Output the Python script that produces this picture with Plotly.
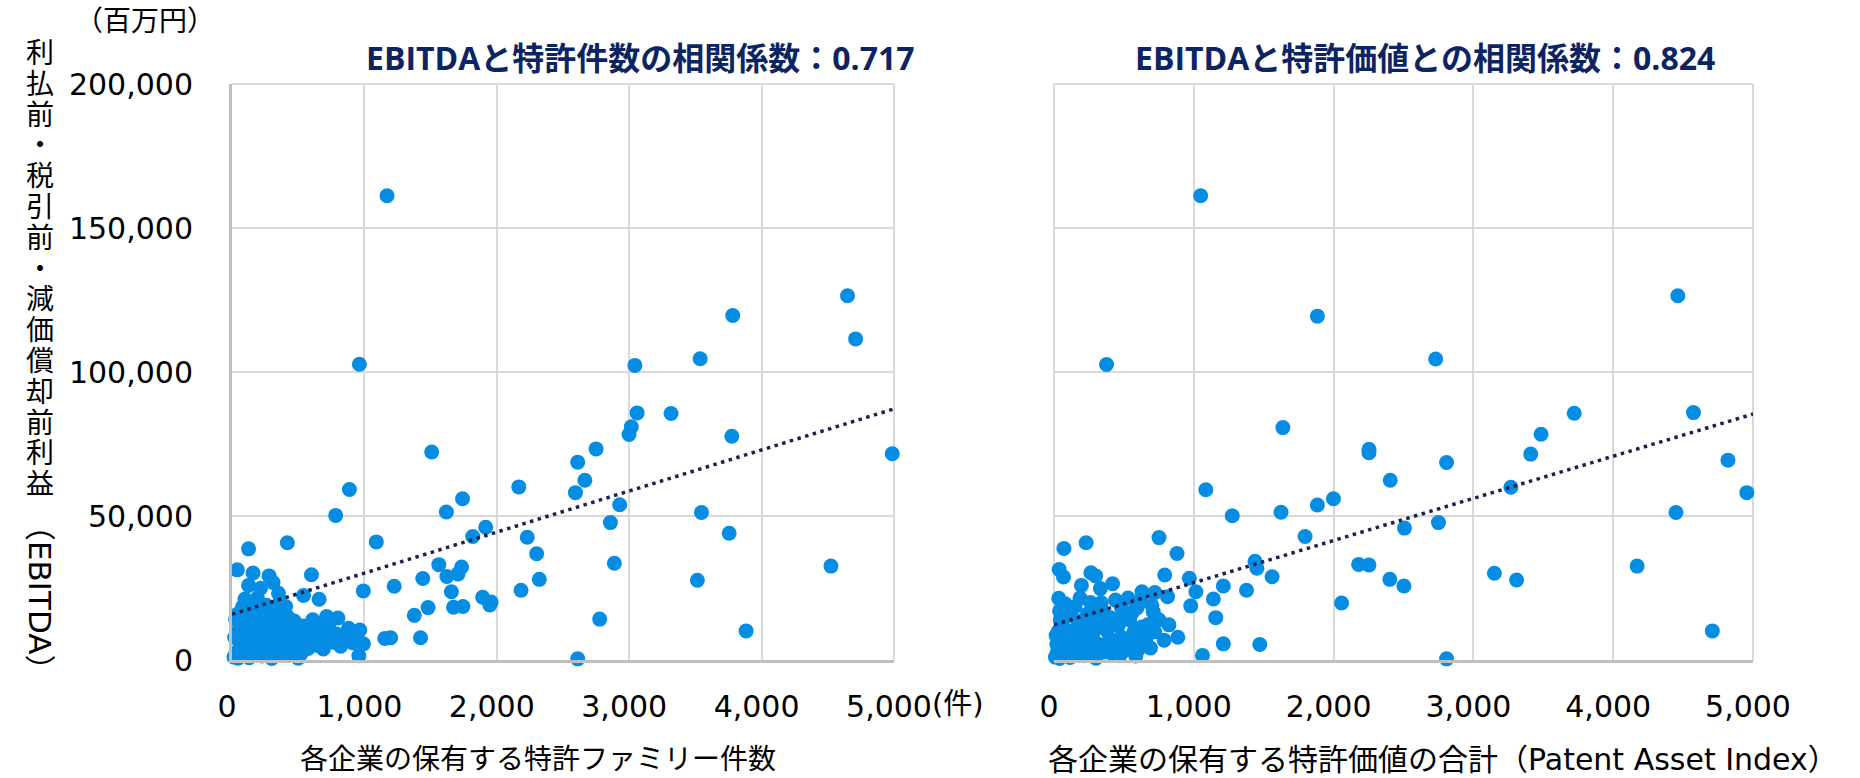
import plotly.graph_objects as go

# ---- data: EBITDA (million yen) vs. patent family count ----
count_x = [
    1171, 962, 3043, 3536, 3782, 4649, 4710, 3060, 3316, 3016, 2999, 3775, 4987, 1508,
    2750, 2611, 2665, 2166, 2594, 887, 1741, 1619, 783, 2928, 3546, 2858, 3755, 1916,
    1818, 2230, 2301, 1090, 418, 125, 2888, 4524, 3515, 2321, 2183, 1562, 1734, 1707,
    1623, 1441, 1225, 992, 1657, 1893, 1947, 1957, 1744, 1673, 1481, 1377, 2777, 3883,
    2611, 1424, 1154, 1198, 958, 992, 965, 918, 800, 715, 665, 658, 600, 540, 40, 159,
    280, 310, 216, 125, 351, 98, 192, 405, 361, 27, 148, 243,
    15, 30, 45, 60, 75, 90, 20, 35, 110, 130, 140, 165, 180, 195, 210, 225, 240, 255,
    270, 285, 300, 315, 330, 345, 360, 375, 390, 410, 425, 440, 455, 470, 490, 505, 520,
    540, 560, 575, 595, 610, 630, 650, 670, 690, 710, 730, 760, 790, 820, 850, 880, 910,
    940, 70, 120, 100, 55, 180, 230, 160, 280, 330, 380, 420, 260, 80, 200, 340, 460,
    500, 120, 45, 310,
]
count_y = [
    161200, 102700, 102300, 104600, 119600, 126500, 111500, 85800, 85600, 81000, 78300,
    77700, 71600, 72200, 73300, 68700, 62400, 60100, 58100, 59200, 56000, 51400, 50200,
    53900, 51200, 47700, 44000, 46100, 42900, 42600, 36900, 41000, 40700, 38600, 33600,
    32600, 27700, 28000, 24200, 33100, 32300, 29900, 29000, 28300, 25600, 24000, 23700,
    21800, 19100, 20100, 18600, 18300, 18200, 15500, 14200, 10100, 400, 7700, 7500, 7700,
    1500, 5600, 10400, 9600, 14600, 15100, 12500, 21100, 29600, 22400, 31300, 30200,
    29200, 26900, 24900, 25900, 23200, 21200, 21500, 18600, 20100, 14200, 13300, 16200,
    1000, 2500, 600, 4200, 1800, 6300, 7800, 9500, 3300, 800, 5400, 2200, 7600, 4000,
    9800, 1400, 6000, 11200, 3600, 8200, 500, 5200, 12500, 2800, 9000, 6800, 1700, 4500,
    10800, 7400, 3000, 13500, 5800, 8800, 2200, 11800, 6500, 4000, 9400, 14000, 7200,
    5000, 10000, 3800, 8000, 12000, 6200, 9000, 4800, 7800, 11000, 6000, 8600, 11800,
    14800, 16800, 13000, 12500, 14000, 17500, 16000, 15800, 12800, 15000, 19000, 18500,
    2000, 3800, 2000, 600, 9200, 16000, 11000,
]

# ---- data: EBITDA (million yen) vs. Patent Asset Index ----
pai_x = [
    1049, 376, 1884, 2730, 4462, 3721, 4574, 3484, 3410, 4821, 4956, 1637, 2253, 2253,
    2808, 2405, 3268, 1086, 1999, 1884, 1624, 1275, 4449, 2750, 2507, 1796, 230, 71, 751,
    880, 1438, 1451, 1560, 2179, 2253, 4171, 3150, 3309, 2402, 2503, 2057, 1377, 1211,
    1140, 1157, 978, 968, 1015, 792, 812, 710, 670, 822, 788, 886, 1211, 1472, 1062, 2808,
    4709, 595, 629, 721, 541, 585, 636, 419, 332, 264, 298, 196, 37, 68, 186, 34, 338, 443,
    10, 25, 40, 55, 70, 85, 15, 30, 100, 115, 130, 150, 165, 180, 200, 215, 230, 250, 265,
    280, 300, 320, 340, 360, 380, 400, 420, 440, 460, 480, 500, 520, 545, 570, 600, 630,
    660, 690, 720, 750, 60, 110, 90, 45, 170, 240, 150, 300, 350, 400, 260, 80, 190, 330,
    470, 120, 40, 290, 20, 60, 480, 560, 620, 530, 700, 440,
]
pai_y = [
    161200, 102600, 119400, 104500, 126500, 85700, 85900, 78400, 71500, 69400, 58100,
    80700, 73200, 72000, 68600, 62400, 60000, 59100, 56000, 53800, 51300, 50100, 51200,
    47700, 45800, 42900, 40700, 38700, 42500, 37000, 34300, 31900, 28900, 33200, 33000,
    32600, 30100, 27800, 28000, 25700, 19800, 24200, 25700, 21200, 14700, 18800, 28400,
    23700, 29500, 22000, 16700, 12200, 12200, 6900, 7900, 5600, 5400, 1600, 400, 10100,
    18200, 23700, 23400, 13900, 1400, 5800, 26500, 24800, 30300, 29200, 25900, 31400,
    28800, 21500, 21400, 19900, 14200,
    1000, 3000, 500, 5000, 2000, 7000, 8500, 10000, 3500, 900, 6000, 2500, 8500, 4500,
    11000, 1500, 7000, 12500, 3800, 9500, 600, 5500, 13500, 2800, 10000, 7200, 2000, 4800,
    12000, 8000, 3200, 15000, 6200, 9600, 3500, 11500, 7800, 4200, 9800, 14000, 12500,
    15500, 17500, 14000, 13500, 16000, 18500, 17000, 16500, 14800, 20000, 19500, 2000,
    3800, 1500, 10000, 17000, 12000, 5500, 9000, 18500, 16500, 20500, 21500, 19000, 20800,
]

# linear trend values at x = 0 and x = 5,000
trend_x = [0, 5000]
count_trend_y = [15900, 87200]
pai_trend_y = [12200, 85400]

x_ticks = [0, 1000, 2000, 3000, 4000, 5000]
x_tick_text = ["0", "1,000", "2,000", "3,000", "4,000", "5,000"]
y_ticks = [0, 50000, 100000, 150000, 200000]
y_tick_text = ["0", "50,000", "100,000", "150,000", "200,000"]

title_left = "EBITDAと特許件数の相関係数：0.717"
title_right = "EBITDAと特許価値との相関係数：0.824"
x_title_left = "各企業の保有する特許ファミリー件数"
x_title_right = "各企業の保有する特許価値の合計（Patent Asset Index）"
y_title_chars = "利払前・税引前・減価償却前利益"
y_title_latin = "（EBITDA）"
y_unit = "（百万円）"
x_unit = "(件)"

# ---- styling ----
W, H = 1860, 778
BLUE = "#058de4"
NAVY = "#1b2250"
TITLE_NAVY = "#0c2461"
GRID = "#d9d9d9"
AXIS = "#bfbfbf"
TEXT_FONT = "DejaVu Sans, Noto Sans CJK JP"
TITLE_FONT = "Open Sans, Noto Sans CJK JP"
NUM = "DejaVu Sans"

# plot-area rectangles in canvas pixels
L_X0, L_X1 = 232, 894
R_X0, R_X1 = 1054, 1753
P_Y0, P_Y1 = 84, 660


def fx(p):
    return p / W


def fy(p):
    return 1 - p / H


fig = go.Figure()

fig.add_trace(go.Scatter(
    x=count_x, y=count_y, mode="markers", xaxis="x", yaxis="y",
    marker=dict(size=15, color=BLUE, line=dict(width=0)), cliponaxis=False,
))
fig.add_trace(go.Scatter(
    x=trend_x, y=count_trend_y, mode="lines", xaxis="x", yaxis="y",
    line=dict(color=NAVY, width=3.5, dash="3.5px,4.5px"),
))
fig.add_trace(go.Scatter(
    x=pai_x, y=pai_y, mode="markers", xaxis="x2", yaxis="y2",
    marker=dict(size=15, color=BLUE, line=dict(width=0)), cliponaxis=False,
))
fig.add_trace(go.Scatter(
    x=trend_x, y=pai_trend_y, mode="lines", xaxis="x2", yaxis="y2",
    line=dict(color=NAVY, width=3.5, dash="3.5px,4.5px"),
))

xaxis_common = dict(
    range=[0, 5000], tickvals=x_ticks, ticktext=x_tick_text,
    showgrid=True, gridcolor=GRID, gridwidth=2,
    showline=True, linecolor=AXIS, linewidth=3,
    zeroline=False, ticks="", automargin=False,
    tickfont=dict(family=NUM, size=30, color="#000000"),
    ticklabelstandoff=18, ticklabelshift=-5,
)
yaxis_common = dict(
    range=[0, 200000], tickvals=y_ticks, ticktext=y_tick_text,
    showgrid=True, gridcolor=GRID, gridwidth=2,
    zeroline=False, ticks="", automargin=False,
    tickfont=dict(family=NUM, size=30, color="#000000"),
)
dom_y = [fy(P_Y1), fy(P_Y0)]

fig.update_layout(
    template="none",
    width=W, height=H,
    margin=dict(l=0, r=0, t=0, b=0, pad=0),
    paper_bgcolor="white", plot_bgcolor="white",
    showlegend=False, hovermode=False,
    xaxis=dict(domain=[fx(L_X0), fx(L_X1)], anchor="y", **xaxis_common),
    yaxis=dict(domain=dom_y, anchor="x", showline=True, linecolor=AXIS, linewidth=3,
               ticklabelstandoff=30, **yaxis_common),
    xaxis2=dict(domain=[fx(R_X0), fx(R_X1)], anchor="y2", **xaxis_common),
    yaxis2=dict(domain=dom_y, anchor="x2", showline=False, showticklabels=False,
                **yaxis_common),
)

# light frame edges (top / right, and the left edge of the second panel)
edge = dict(color=GRID, width=2)
shapes = []
for xr, yr in (("x", "y"), ("x2", "y2")):
    shapes.append(dict(type="line", xref=f"{xr} domain", yref=f"{yr} domain",
                       x0=0, x1=1, y0=1, y1=1, line=edge, layer="below"))
    shapes.append(dict(type="line", xref=f"{xr} domain", yref=f"{yr} domain",
                       x0=1, x1=1, y0=0, y1=1, line=edge, layer="below"))
shapes.append(dict(type="line", xref="x2 domain", yref="y2 domain",
                   x0=0, x1=0, y0=0, y1=1, line=edge, layer="below"))
fig.update_layout(shapes=shapes)

ann = []
# chart titles
ann.append(dict(text=f"<b>{title_left}</b>", x=fx(640), y=fy(57), xref="paper", yref="paper",
                xanchor="center", yanchor="middle", showarrow=False,
                font=dict(family=TITLE_FONT, size=32, color=TITLE_NAVY)))
ann.append(dict(text=f"<b>{title_right}</b>", x=fx(1425), y=fy(57), xref="paper", yref="paper",
                xanchor="center", yanchor="middle", showarrow=False,
                font=dict(family=TITLE_FONT, size=32, color=TITLE_NAVY)))
# x axis titles
ann.append(dict(text=x_title_left, x=fx(538), y=fy(759), xref="paper", yref="paper",
                xanchor="center", yanchor="middle", showarrow=False,
                font=dict(family=TEXT_FONT, size=28, color="#000000")))
ann.append(dict(text=x_title_right, x=fx(1443), y=fy(759), xref="paper", yref="paper",
                xanchor="center", yanchor="middle", showarrow=False,
                font=dict(family=TEXT_FONT, size=30, color="#000000")))
# unit labels
ann.append(dict(text=y_unit, x=fx(145), y=fy(22), xref="paper", yref="paper",
                xanchor="center", yanchor="middle", showarrow=False,
                font=dict(family=TEXT_FONT, size=28, color="#000000")))
ann.append(dict(text=x_unit, x=fx(930), y=fy(704), xref="paper", yref="paper",
                xanchor="left", yanchor="middle", showarrow=False,
                font=dict(family=TEXT_FONT, size=29, color="#000000")))
# vertical y axis title, one upright character per line
for i, ch in enumerate(y_title_chars):
    ann.append(dict(text=ch, x=fx(40), y=fy(53 + 30.8 * i), xref="paper", yref="paper",
                    xanchor="center", yanchor="middle", showarrow=False, height=30,
                    font=dict(family=TEXT_FONT, size=28, color="#000000")))
ann.append(dict(text=y_title_latin, x=fx(40), y=fy(597), xref="paper", yref="paper",
                xanchor="center", yanchor="middle", showarrow=False, textangle=90,
                font=dict(family=TEXT_FONT, size=31, color="#000000")))

fig.update_layout(annotations=ann)
fig.write_html("out.html")
